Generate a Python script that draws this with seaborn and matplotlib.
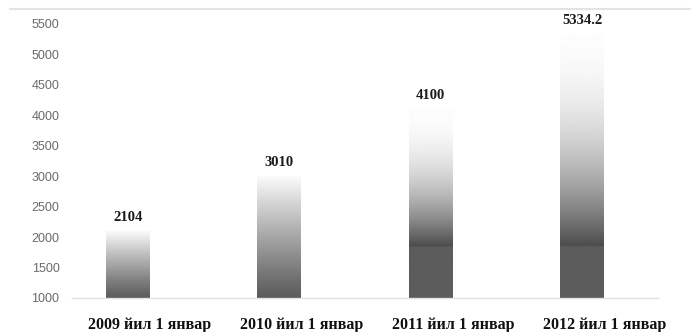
import numpy as np
import pandas as pd
import matplotlib
matplotlib.use("Agg")
import matplotlib.pyplot as plt
import seaborn as sns
from matplotlib.lines import Line2D
from matplotlib.transforms import ScaledTranslation

categories = ["2009 йил 1 январ", "2010 йил 1 январ", "2011 йил 1 январ", "2012 йил 1 январ"]
values = [2104, 3010, 4100, 5334.2]
value_labels = ["2104", "3010", "4100", "5334.2"]
yticks = [1000, 1500, 2000, 2500, 3000, 3500, 4000, 4500, 5000, 5500]
# top of the flat dark band at the foot of each bar (no band = axis bottom)
dark_band_top = [1000, 1000, 1850, 1850]

sns.set_theme(style="white")
plt.rcParams["font.family"] = ["Liberation Sans", "DejaVu Sans"]

fig = plt.figure(figsize=(6.91, 3.32), dpi=100)
ax = fig.add_axes([72 / 691, 34 / 332, 586 / 691, 274 / 332])

df = pd.DataFrame({"cat": categories, "val": values})
sns.barplot(data=df, x="cat", y="val", ax=ax, width=0.29,
            color="white", edgecolor="none", saturation=1)

ax.set_ylim(1000, 5500)
ax.set_xlim(-0.37, 3.5)
ax.set_yticks(yticks)
ax.set_yticklabels([str(t) for t in yticks], color="#6a6a6a", fontsize=9)
ax.tick_params(axis="y", length=0, pad=9)
ax.tick_params(axis="x", length=0, pad=14)
shift = ScaledTranslation(0.22, 0, fig.dpi_scale_trans)
for lbl in ax.get_xticklabels():
    lbl.set_fontfamily(["Liberation Serif", "DejaVu Serif"])
    lbl.set_fontweight("bold")
    lbl.set_fontsize(11.5)
    lbl.set_color("#111111")
    lbl.set_transform(lbl.get_transform() + shift)
ax.set_xlabel("")
ax.set_ylabel("")
for s in ["left", "right", "top"]:
    ax.spines[s].set_visible(False)
ax.spines["bottom"].set_color("#e0e0e0")
ax.spines["bottom"].set_linewidth(1)

base = ax.get_ylim()[0]
n = 300
for patch, val, band, lab in zip(ax.patches, values, dark_band_top, value_labels):
    x0 = patch.get_x()
    w = patch.get_width()
    ys = np.linspace(base, val, n)
    start = max(band, base)
    t = np.clip((ys - start) / (val - start), 0, 1)
    if band > base:
        g = 0.30 + 0.69 * (1 - (1 - t) ** 2.0)
        g[ys < band] = 0.36
    else:
        g = 0.36 + 0.63 * t ** 1.1
    img = np.repeat(g[:, None], 2, axis=1)
    im = ax.imshow(img, cmap="gray", vmin=0, vmax=1, origin="lower",
                   extent=(x0, x0 + w, base, val), aspect="auto",
                   interpolation="bilinear", zorder=2)
    im.set_clip_path(patch)
    ax.annotate(lab, xy=(x0 + w / 2, val), xytext=(0, 5),
                textcoords="offset points", ha="center", va="bottom",
                fontsize=10.5, fontweight="bold", color="#1a1a1a",
                family=["Liberation Serif", "DejaVu Serif"], annotation_clip=False)

ax.set_xlim(-0.37, 3.5)
ax.set_ylim(1000, 5500)

fig.add_artist(Line2D([0.015, 1.0], [1 - 9 / 332, 1 - 9 / 332],
                      transform=fig.transFigure, color="#e3e3e3", lw=1.5))

fig.savefig("out.png", dpi=100, facecolor="white")
